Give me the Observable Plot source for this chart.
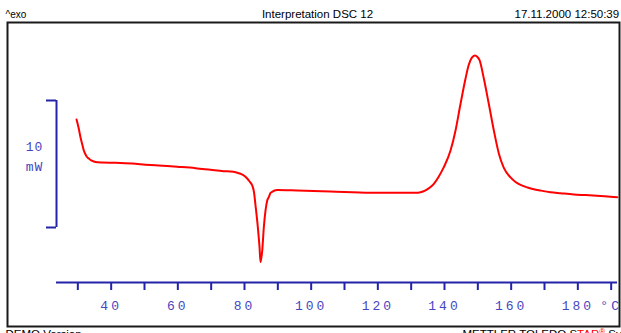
<!DOCTYPE html>
<html>
<head>
<meta charset="utf-8">
<script src="https://cdn.jsdelivr.net/npm/d3@7"></script>
<script src="https://cdn.jsdelivr.net/npm/@observablehq/plot@0.6"></script>
<style>
  html, body { margin: 0; padding: 0; background: #fff; }
  #chart svg { display: block; }
  .dsc [aria-label="x-axis tick label"] text { letter-spacing: 3px; fill: #4646c0; }
  .dsc .scale-label text { letter-spacing: 1px; }
</style>
</head>
<body>
<div id="chart"></div>
<script>
// DSC run: temperature (°C) against heat flow (mW), exothermic upwards
const temperature = [
  30.21, 30.81, 31.41, 32.01, 32.40, 32.91, 33.36, 33.90, 34.41, 35.40,
  36.51, 37.92, 41.91, 46.92, 50.91, 54.81, 60.42, 65.91, 70.41,
  74.31, 76.41, 78.21, 79.41, 80.61, 81.42, 82.11, 82.92, 83.46, 83.91,
  84.60, 85.11, 85.41, 85.92, 86.40, 86.91, 87.42, 87.90, 88.41, 89.01,
  89.91, 90.51, 96.42, 106.41, 118.41, 131.91, 133.41, 134.91, 136.41, 137.40, 138.81,
  140.40, 142.41, 143.91, 145.41, 146.91, 147.81, 148.81, 149.71, 150.51, 151.11,
  152.40, 153.90, 155.40, 156.90, 158.40, 160.41, 161.91, 163.41, 165.51, 167.40,
  169.41, 172.41, 175.41, 179.40, 182.91, 187.41, 190.41, 192.42
];
const heatFlow = [
  8.50, 7.87, 7.09, 6.46, 6.06, 5.75, 5.55, 5.43, 5.31, 5.20,
  5.14, 5.12, 5.09, 5.03, 4.95, 4.88, 4.78, 4.67, 4.54,
  4.43, 4.41, 4.33, 4.23, 4.06, 3.86, 3.62, 3.31, 2.76, 1.73,
  0.02, -1.55, -2.73, -1.81, 0.02, 1.34, 2.13, 2.39, 2.72, 2.83,
  2.93, 2.95, 2.91, 2.83, 2.73, 2.73, 2.78, 2.93, 3.18, 3.44, 3.98,
  4.75, 6.06, 7.64, 9.74, 11.73, 12.76, 13.38, 13.55, 13.42, 13.18,
  11.73, 9.72, 7.64, 5.83, 4.69, 3.94, 3.58, 3.35, 3.15, 3.01,
  2.91, 2.78, 2.70, 2.60, 2.55, 2.48, 2.43, 2.39
];

// Temperature axis: minor ticks every 10 °C, labels every 20 °C, unit at the end
const tempTicks = d3.range(30, 191, 10);
const tempLabels = [40, 60, 80, 100, 120, 140, 160, 180];
const tempUnit = "°C";

// Scale bar for the heat-flow ordinate
const scaleBar = [0, 10];
const scaleLabel = "10\nmW";

// Header and footer texts
const exoLabel = "^exo";
const title = "Interpretation DSC 12";
const stamp = "17.11.2000 12:50:39";
const demoLabel = "DEMO Version";
const brandParts = [
  {text: "METTLER TOLEDO S", fill: "#000"},
  {text: "TAR", fill: "#ff0000"},
  {text: "®", fill: "#ff0000"},
  {text: " System", fill: "#000"}
];

const data = temperature.map((t, i) => ({t, q: heatFlow[i]}));

const xDomain = [24.2, 192.5];
const yDomain = [-4.331, 16.142];
const blue = "#2323a8";
const sans = "Liberation Sans, Arial, sans-serif";
const mono = "Liberation Mono, Courier New, monospace";

const chart = Plot.plot({
  width: 621,
  height: 333,
  marginLeft: 56,
  marginRight: 4,
  marginTop: 22,
  marginBottom: 51,
  className: "dsc",
  x: {domain: xDomain, axis: null},
  y: {domain: yDomain, axis: null},
  style: {background: "#fff"},
  marks: [
    // outer page frame
    Plot.frame({stroke: "#1a1a1a", strokeWidth: 2, insetLeft: -49, insetRight: -2, insetBottom: -44}),
    // temperature axis
    Plot.ruleY([yDomain[0]], {stroke: blue, strokeWidth: 2}),
    Plot.axisX(tempTicks, {
      tickSize: 8,
      tickPadding: 10,
      stroke: blue,
      strokeWidth: 2,
      fill: "#4646c0",
      fontFamily: mono,
      fontSize: 13,
      dx: 2,
      label: null,
      tickFormat: d => d === 190 ? tempUnit : (tempLabels.includes(d) ? String(d) : "")
    }),
    // heat-flow scale bar
    Plot.ruleX([xDomain[0]], {y1: scaleBar[0], y2: scaleBar[1], stroke: blue, strokeWidth: 2}),
    Plot.ruleY(scaleBar, {x1: xDomain[0] - 3, x2: xDomain[0], stroke: blue, strokeWidth: 2}),
    Plot.text([scaleLabel], {
      x: xDomain[0], y: (scaleBar[0] + scaleBar[1]) / 2,
      dx: -22, dy: -9, lineHeight: 1.5,
      fill: "#4646c0", fontFamily: mono, fontSize: 13,
      className: "scale-label"
    }),
    // measured curve
    Plot.line(data, {x: "t", y: "q", stroke: "#ff0000", strokeWidth: 2, curve: "monotone-x"}),
    // header
    Plot.text([exoLabel], {frameAnchor: "top-left", dx: -51, dy: -8, lineAnchor: "middle", textAnchor: "start", fontFamily: sans, fontSize: 10, fill: "#000"}),
    Plot.text([title], {frameAnchor: "top", dx: -19.5, dy: -8, lineAnchor: "middle", fontFamily: sans, fontSize: 11.5, fill: "#000"}),
    Plot.text([stamp], {frameAnchor: "top-right", dx: -103, dy: -8, lineAnchor: "middle", textAnchor: "start", fontFamily: sans, fontSize: 11.5, fill: "#000"}),
    // footer
    Plot.text([demoLabel], {frameAnchor: "bottom-left", dx: -51, dy: 47, lineAnchor: "top", textAnchor: "start", fontFamily: sans, fontSize: 11.5, fill: "#000"}),
    Plot.text([brandParts.map(p => p.text).join("")], {frameAnchor: "bottom-right", dx: -155, dy: 47, lineAnchor: "top", textAnchor: "start", fontFamily: sans, fontSize: 11.5, fill: "#000", className: "brand"})
  ]
});

// colour the STAR part of the footer brand
d3.select(chart).selectAll(".brand text").each(function() {
  const el = d3.select(this);
  el.text(null);
  brandParts.forEach(p => {
    const ts = el.append("tspan").attr("fill", p.fill).text(p.text);
    if (p.text === "®") ts.attr("font-size", 8).attr("baseline-shift", "super");
  });
});

document.getElementById("chart").appendChild(chart);
</script>
</body>
</html>
